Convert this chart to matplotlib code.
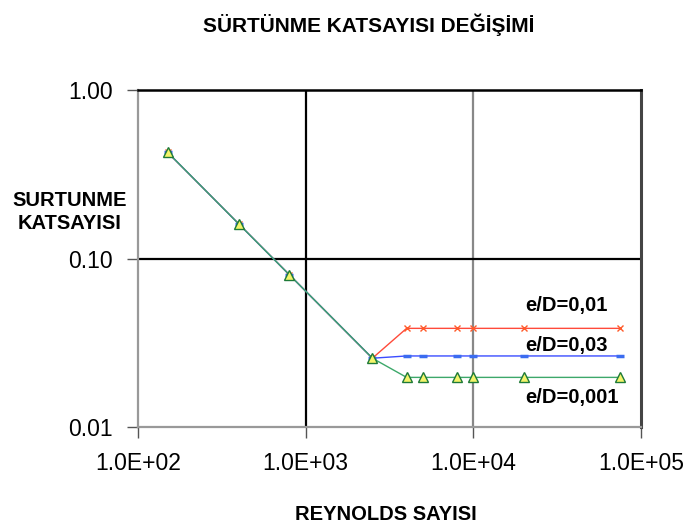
import matplotlib
matplotlib.use("Agg")
import matplotlib.pyplot as plt
from matplotlib.ticker import FixedLocator, NullLocator

plt.rcParams['font.family'] = ['Liberation Sans', 'DejaVu Sans']

reynolds = [150, 400, 800, 2500, 4000, 5000, 8000, 10000, 20000, 75000]
f_ed_001 = [0.427, 0.16, 0.08, 0.0256, 0.0197, 0.0197, 0.0197, 0.0197, 0.0197, 0.0197]
f_ed_01 = [0.427, 0.16, 0.08, 0.0256, 0.0385, 0.0385, 0.0385, 0.0385, 0.0385, 0.0385]
f_ed_03 = [0.427, 0.16, 0.08, 0.0256, 0.0264, 0.0264, 0.0264, 0.0264, 0.0264, 0.0264]

x_ticks = [1e2, 1e3, 1e4, 1e5]
x_tick_labels = ["1.0E+02", "1.0E+03", "1.0E+04", "1.0E+05"]
y_ticks = [0.01, 0.1, 1.0]
y_tick_labels = ["0.01", "0.10", "1.00"]

fig = plt.figure(figsize=(6.93, 5.27), dpi=100)
ax = fig.add_axes([138/693, 1-427/527, (641-138)/693, (427-90)/527])
ax.set_xscale('log')
ax.set_yscale('log')
ax.set_xlim(1e2, 1e5)
ax.set_ylim(0.01, 1.0)

ax.plot(reynolds, f_ed_01, color='#ff4a3a', lw=1.0, marker='x', ms=5,
        mew=1.0, mec='#ff5a2a', zorder=3)
ax.plot(reynolds, f_ed_03, color='#3b4cff', lw=1.0, marker='_', ms=6,
        mew=2.5, mec='#3b6cf0', zorder=4)
ax.plot(reynolds, f_ed_001, color='#3da86a', lw=1.0, marker='^', ms=7,
        mfc='#f4f46a', mec='#1e7a38', mew=1.0, zorder=5)

ax.xaxis.set_major_locator(FixedLocator(x_ticks))
ax.yaxis.set_major_locator(FixedLocator(y_ticks))
ax.xaxis.set_minor_locator(NullLocator())
ax.yaxis.set_minor_locator(NullLocator())
ax.set_xticklabels(x_tick_labels, fontsize=16.5)
ax.set_yticklabels(y_tick_labels, fontsize=16.5)
ax.tick_params(axis='both', direction='out', length=8, width=1, color='#555555', pad=10)

ax.axvline(x_ticks[1], color='black', lw=1.6, zorder=1)
ax.axvline(x_ticks[2], color='#888888', lw=1.6, zorder=1)
ax.axhline(y_ticks[1], color='black', lw=1.6, zorder=1)

ax.spines['top'].set_color('black')
ax.spines['top'].set_linewidth(1.8)
ax.spines['right'].set_color('#444444')
ax.spines['right'].set_linewidth(2.2)
ax.spines['left'].set_color('#999999')
ax.spines['left'].set_linewidth(1.6)
ax.spines['bottom'].set_color('#999999')
ax.spines['bottom'].set_linewidth(1.6)

fig.text(369/693, 1-25/527, "SÜRTÜNME KATSAYISI DEĞİŞİMİ", ha='center', va='center',
         fontsize=15, fontweight='bold')
fig.text(70/693, 1-212/527, "SURTUNME\nKATSAYISI", ha='center', va='center',
         fontsize=14.5, fontweight='bold', linespacing=1.3)
fig.text(386/693, 1-515/527, "REYNOLDS SAYISI", ha='center', va='center',
         fontsize=14.5, fontweight='bold')

fig.text(525/693, 1-306/527, "e/D=0,01", ha='left', va='center', fontsize=14.5, fontweight='bold')
fig.text(525/693, 1-345/527, "e/D=0,03", ha='left', va='center', fontsize=14.5, fontweight='bold')
fig.text(525/693, 1-398/527, "e/D=0,001", ha='left', va='center', fontsize=14.5, fontweight='bold')

fig.savefig("out.png", dpi=100)
